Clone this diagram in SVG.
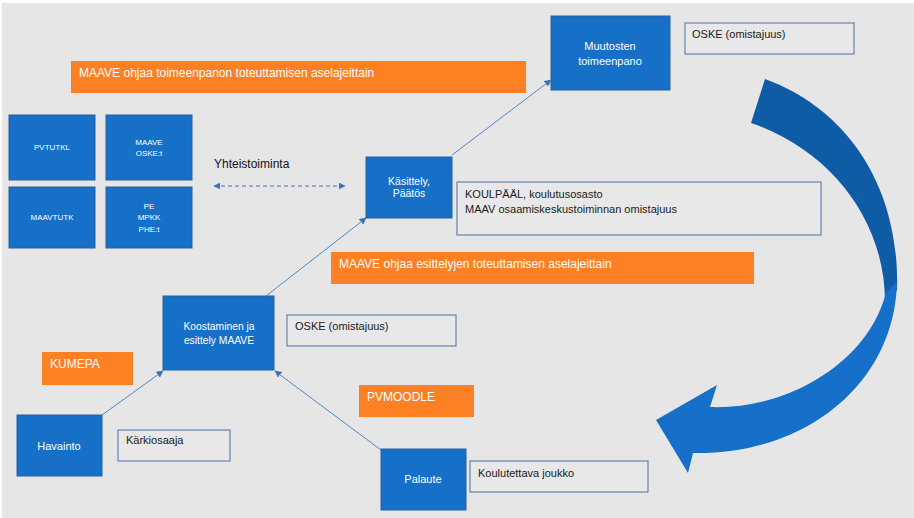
<svg xmlns="http://www.w3.org/2000/svg" width="914" height="518" viewBox="0 0 914 518">
<defs>
<style>
.bg{fill:#e6e6e6}
.blue{fill:#1670c7;stroke:#2a5e9e;stroke-width:1}
.wbox{fill:#e8e8e8;stroke:#4a6fa5;stroke-width:1}
.org{fill:#fd8024}
.tw{font-family:"Liberation Sans",Arial,sans-serif;fill:#ffffff;text-anchor:middle}
.to{font-family:"Liberation Sans",Arial,sans-serif;fill:#ffffff;font-size:12px}
.tb{font-family:"Liberation Sans",Arial,sans-serif;fill:#1a1a1a;font-size:11px}
.conn{stroke:#4f86c6;stroke-width:1;fill:none}
.dash{stroke:#3f72b5;stroke-width:1;fill:none;stroke-dasharray:4 3}
</style>
<marker id="ah" viewBox="0 0 10 10" refX="9" refY="5" markerWidth="7" markerHeight="7" markerUnits="userSpaceOnUse" orient="auto">
<path d="M0,0 L10,5 L0,10 Z" fill="#3f72b5"/>
</marker>
<marker id="ahs" viewBox="0 0 10 10" refX="1" refY="5" markerWidth="7" markerHeight="7" markerUnits="userSpaceOnUse" orient="auto">
<path d="M10,0 L0,5 L10,10 Z" fill="#3f72b5"/>
</marker>
</defs>
<rect class="bg" x="2" y="3" width="912" height="515"/>

<g id="banner-toimeenpano">
<rect class="org" x="71" y="61" width="455" height="32"/>
<text class="to" x="79" y="77">MAAVE ohjaa toimeenpanon toteuttamisen aselajeittain</text>
</g>
<g id="banner-esittelyjen">
<rect class="org" x="331" y="252" width="423" height="32"/>
<text class="to" x="339" y="268">MAAVE ohjaa esittelyjen toteuttamisen aselajeittain</text>
</g>
<g id="kumepa">
<rect class="org" x="42" y="352" width="91" height="33"/>
<text class="to" x="50" y="368">KUMEPA</text>
</g>
<g id="pvmoodle">
<rect class="org" x="359" y="385" width="115" height="32"/>
<text class="to" x="367" y="401">PVMOODLE</text>
</g>

<g id="pvtutkl">
<rect class="blue" x="9" y="115" width="86" height="65"/>
<text class="tw" x="52" y="150" font-size="8">PVTUTKL</text>
</g>
<g id="maave-oske">
<rect class="blue" x="106" y="115" width="86" height="65"/>
<text class="tw" x="149" y="145" font-size="8">MAAVE</text>
<text class="tw" x="149" y="156" font-size="8">OSKE:t</text>
</g>
<g id="maavtutk">
<rect class="blue" x="9" y="187" width="86" height="61"/>
<text class="tw" x="52" y="220" font-size="8">MAAVTUTK</text>
</g>
<g id="pe-mpkk">
<rect class="blue" x="106" y="187" width="86" height="61"/>
<text class="tw" x="149" y="209" font-size="8">PE</text>
<text class="tw" x="149" y="220" font-size="8">MPKK</text>
<text class="tw" x="149" y="232" font-size="8">PHE:t</text>
</g>

<g id="yhteistoiminta">
<text x="214" y="168" font-family="Liberation Sans, Arial, sans-serif" font-size="12" fill="#111">Yhteistoiminta</text>
</g>

<g id="kasittely">
<rect class="blue" x="366" y="157" width="86" height="61"/>
<text class="tw" x="409" y="185" font-size="10.5">Käsittely,</text>
<text class="tw" x="409" y="197" font-size="10.5">Päätös</text>
</g>
<g id="koulpaal">
<rect class="wbox" x="457" y="182" width="364" height="53"/>
<text class="tb" x="465" y="198">KOULPÄÄL, koulutusosasto</text>
<text class="tb" x="465" y="213">MAAV osaamiskeskustoiminnan omistajuus</text>
</g>
<g id="muutosten">
<rect class="blue" x="551" y="16" width="119" height="74"/>
<text class="tw" x="610" y="50" font-size="11">Muutosten</text>
<text class="tw" x="610" y="65" font-size="11">toimeenpano</text>
</g>
<g id="oske-top">
<rect class="wbox" x="685" y="23" width="169" height="31"/>
<text class="tb" x="692" y="38">OSKE (omistajuus)</text>
</g>
<g id="koostaminen">
<rect class="blue" x="163" y="296" width="111" height="74"/>
<text class="tw" x="219" y="330" font-size="10.3">Koostaminen ja</text>
<text class="tw" x="219" y="344" font-size="10.3">esittely MAAVE</text>
</g>
<g id="oske-mid">
<rect class="wbox" x="287" y="315" width="169" height="31"/>
<text class="tb" x="295" y="330">OSKE (omistajuus)</text>
</g>
<g id="havainto">
<rect class="blue" x="17" y="415" width="85" height="61"/>
<text class="tw" x="59" y="450" font-size="11">Havainto</text>
</g>
<g id="karkiosaaja">
<rect class="wbox" x="118" y="430" width="112" height="31"/>
<text class="tb" x="126" y="444">Kärkiosaaja</text>
</g>
<g id="palaute">
<rect class="blue" x="381" y="449" width="85" height="61"/>
<text class="tw" x="423" y="483" font-size="11">Palaute</text>
</g>
<g id="koulutettava">
<rect class="wbox" x="470" y="461" width="178" height="31"/>
<text class="tb" x="478" y="477">Koulutettava joukko</text>
</g>

<g id="curved-arrow">
<path d="M765,79 C850,110 900,190 897,290 L885,302 C885,220 830,150 751,123 Z" fill="#0f5ca6"/>
<path d="M897,282 C895,380 810,455 693,453 L688,473 L656,420 L717,385 L710,407 C790,410 870,360 886,292 Z" fill="#1670c9"/>
</g>

<g id="connectors">
<line class="conn" x1="102" y1="415" x2="163" y2="371" marker-end="url(#ah)"/>
<line class="conn" x1="381" y1="450" x2="275" y2="371" marker-end="url(#ah)"/>
<line class="conn" x1="266" y1="296" x2="366" y2="218" marker-end="url(#ah)"/>
<line class="conn" x1="452" y1="155" x2="551" y2="80" marker-end="url(#ah)"/>
<line class="dash" x1="214" y1="186" x2="345" y2="186" marker-start="url(#ahs)" marker-end="url(#ah)"/>
</g>
</svg>
